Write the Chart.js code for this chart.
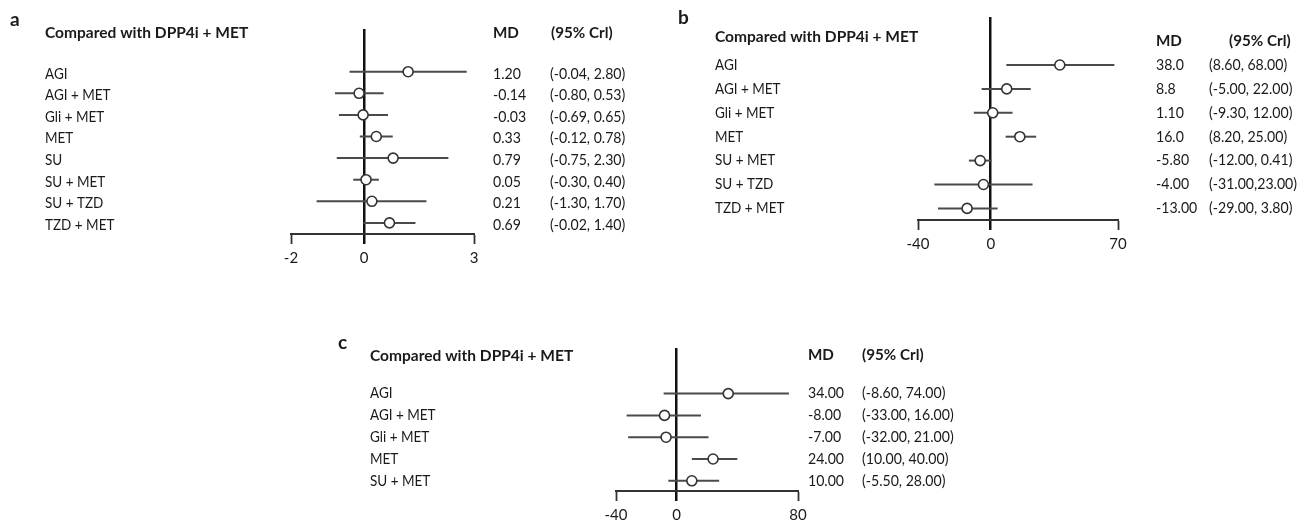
<!DOCTYPE html>
<html>
<head>
<meta charset="utf-8">
<script src="https://cdn.jsdelivr.net/npm/chart.js@4.4.1/dist/chart.umd.min.js"></script>
<style>
  html, body { margin: 0; padding: 0; background: #fff; }
  body { width: 1300px; height: 521px; position: relative; overflow: hidden; }
  canvas { position: absolute; }
</style>
</head>
<body>
<canvas id="panelA" width="650" height="270" style="left:0px;top:0px"></canvas>
<canvas id="panelB" width="650" height="270" style="left:650px;top:0px"></canvas>
<canvas id="panelC" width="700" height="251" style="left:330px;top:270px"></canvas>
<script>
// panel a
const rowsA = ["AGI", "AGI + MET", "Gli + MET", "MET", "SU", "SU + MET", "SU + TZD", "TZD + MET"];
const mdA = [1.20, -0.14, -0.03, 0.33, 0.79, 0.05, 0.21, 0.69];
const loA = [-0.40, -0.80, -0.69, -0.12, -0.75, -0.30, -1.30, -0.02];
const hiA = [2.80, 0.53, 0.65, 0.78, 2.30, 0.40, 1.70, 1.40];
const mdTextA = ["1.20", "-0.14", "-0.03", "0.33", "0.79", "0.05", "0.21", "0.69"];
const criTextA = ["(-0.04, 2.80)", "(-0.80, 0.53)", "(-0.69, 0.65)", "(-0.12, 0.78)", "(-0.75, 2.30)", "(-0.30, 0.40)", "(-1.30, 1.70)", "(-0.02, 1.40)"];
const ticksA = [-2, 0, 3];

// panel b
const rowsB = ["AGI", "AGI + MET", "Gli + MET", "MET", "SU + MET", "SU + TZD", "TZD + MET"];
const mdB = [38.0, 8.8, 1.10, 16.0, -5.80, -4.00, -13.00];
const loB = [8.60, -5.00, -9.30, 8.20, -12.00, -31.00, -29.00];
const hiB = [68.00, 22.00, 12.00, 25.00, 0.41, 23.00, 3.80];
const mdTextB = ["38.0", "8.8", "1.10", "16.0", "-5.80", "-4.00", "-13.00"];
const criTextB = ["(8.60, 68.00)", "(-5.00, 22.00)", "(-9.30, 12.00)", "(8.20, 25.00)", "(-12.00, 0.41)", "(-31.00,23.00)", "(-29.00, 3.80)"];
const ticksB = [-40, 0, 70];

// panel c
const rowsC = ["AGI", "AGI + MET", "Gli + MET", "MET", "SU + MET"];
const mdC = [34.00, -8.00, -7.00, 24.00, 10.00];
const loC = [-8.60, -33.00, -32.00, 10.00, -5.50];
const hiC = [74.00, 16.00, 21.00, 40.00, 28.00];
const mdTextC = ["34.00", "-8.00", "-7.00", "24.00", "10.00"];
const criTextC = ["(-8.60, 74.00)", "(-33.00, 16.00)", "(-32.00, 21.00)", "(10.00, 40.00)", "(-5.50, 28.00)"];
const ticksC = [-40, 0, 80];

const FONT = 'Lato, "Liberation Sans", sans-serif';
const INK = '#1a1a1a';

// the original font is a narrow one, so squeeze the text a little
function narrowText(ctx, s, x, y, k) {
  ctx.save();
  ctx.translate(x, y);
  ctx.scale(k, 1);
  ctx.fillText(s, 0, 0);
  ctx.restore();
}

// labels, MD and CrI columns, drawn beside the plot area
const textPlugin = {
  id: 'forestText',
  afterDraw(chart) {
    const t = chart.options.plugins.forestText;
    const ctx = chart.ctx;
    const y = chart.scales.y;
    ctx.save();
    ctx.fillStyle = INK;
    ctx.textBaseline = 'middle';
    ctx.textAlign = 'left';
    ctx.font = 'bold 19px ' + FONT;
    ctx.fillText(t.letter, t.letterX, t.letterY);
    ctx.font = 'bold 16px ' + FONT;
    narrowText(ctx, 'Compared with DPP4i + MET', t.labelX, t.headY, 0.97);
    narrowText(ctx, 'MD', t.mdX, t.mdHeadY, 0.95);
    narrowText(ctx, '(95% Crl)', t.criHeadX, t.mdHeadY, 0.95);
    ctx.font = '15px ' + FONT;
    t.rows.forEach((r, i) => {
      const py = y.getPixelForValue(i) + t.textShift;
      narrowText(ctx, r, t.labelX, py, 0.9);
      narrowText(ctx, t.mdText[i], t.mdX, py, 0.94);
      narrowText(ctx, t.criText[i], t.criX, py, 0.94);
    });
    ctx.restore();
  }
};

function forest(id, rows, md, lo, hi, ticks, yMin, yMax, pad, txt) {
  const whiskers = rows.map((r, i) => ({
    data: [{ x: lo[i], y: i }, { x: hi[i], y: i }],
    showLine: true,
    borderColor: '#4a4a4a',
    borderWidth: 2,
    pointRadius: 0,
    clip: false,
    order: 1
  }));
  const points = {
    data: md.map((v, i) => ({ x: v, y: i })),
    pointStyle: 'circle',
    pointRadius: 5,
    pointBackgroundColor: '#fff',
    pointBorderColor: '#333',
    pointBorderWidth: 1.6,
    clip: false,
    order: 0
  };
  return new Chart(document.getElementById(id), {
    type: 'scatter',
    data: { datasets: whiskers.concat([points]) },
    options: {
      responsive: false,
      animation: false,
      devicePixelRatio: 1,
      layout: { padding: pad },
      plugins: {
        legend: { display: false },
        tooltip: { enabled: false },
        forestText: Object.assign({ rows: rows }, txt)
      },
      scales: {
        x: {
          type: 'linear',
          min: ticks[0],
          max: ticks[ticks.length - 1],
          afterBuildTicks: s => { s.ticks = ticks.map(v => ({ value: v })); },
          afterFit: s => { s.height = 30; },
          border: { display: true, color: '#333', width: 2 },
          grid: {
            drawOnChartArea: true,
            color: c => (c.tick && c.tick.value === 0) ? '#111' : 'rgba(0,0,0,0)',
            lineWidth: c => (c.tick && c.tick.value === 0) ? 2.5 : 1,
            tickColor: c => (c.tick && c.tick.value === 0) ? '#111' : '#333',
            tickWidth: c => (c.tick && c.tick.value === 0) ? 2.5 : 1.8,
            tickLength: 10
          },
          ticks: {
            color: INK,
            font: { family: FONT, size: 15 },
            padding: 5,
            maxRotation: 0,
            callback: v => String(v)
          }
        },
        y: {
          type: 'linear',
          display: false,
          reverse: true,
          min: yMin,
          max: yMax
        }
      }
    },
    plugins: [textPlugin]
  });
}

forest('panelA', rowsA, mdA, loA, hiA, ticksA, -1.977, 7.514,
  { left: 291, right: 176, top: 29, bottom: 6 },
  { mdText: mdTextA, criText: criTextA, letter: 'a', letterX: 10, letterY: 20,
    labelX: 45, headY: 33, mdX: 493, criHeadX: 551, criX: 550, mdHeadY: 33, textShift: 2 });

forest('panelB', rowsB, mdB, loB, hiB, ticksB, -2.008, 6.486,
  { left: 268, right: 182, top: 17, bottom: 20 },
  { mdText: mdTextB, criText: criTextB, letter: 'b', letterX: 28, letterY: 18,
    labelX: 65, headY: 37, mdX: 506, criHeadX: 579, criX: 559, mdHeadY: 41, textShift: 0 });

forest('panelC', rowsC, mdC, loC, hiC, ticksC, -2.092, 4.468,
  { left: 286, right: 232, top: 78, bottom: 0 },
  { mdText: mdTextC, criText: criTextC, letter: 'c', letterX: 8, letterY: 73,
    labelX: 40, headY: 86, mdX: 478, criHeadX: 532, criX: 532, mdHeadY: 85, textShift: 0 });
</script>
</body>
</html>
